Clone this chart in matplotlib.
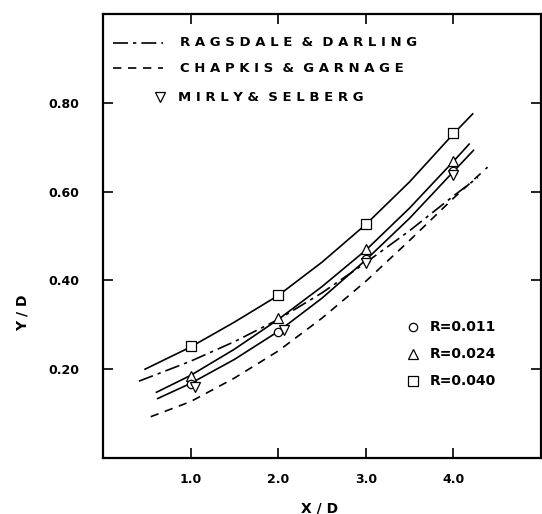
import numpy as np
import matplotlib
matplotlib.use('Agg')
import matplotlib.pyplot as plt

plt.rcParams['font.family'] = ['DejaVu Sans']
plt.rcParams['font.weight'] = 'bold'

# measured points (X/D)
x_pts = [1.0, 2.0, 3.0, 4.0]
r011_y = [0.166, 0.284, 0.448, 0.646]
r024_y = [0.184, 0.316, 0.470, 0.670]
r040_y = [0.252, 0.366, 0.527, 0.732]
mirly_x = [1.05, 2.07, 3.0, 4.0]
mirly_y = [0.159, 0.289, 0.440, 0.638]

# fitted curves
r040_cx = [0.48, 1.0, 1.5, 2.0, 2.5, 3.0, 3.5, 4.0, 4.22]
r040_cy = [0.200, 0.250, 0.306, 0.366, 0.441, 0.526, 0.622, 0.730, 0.775]
r024_cx = [0.61, 1.0, 1.5, 2.0, 2.5, 3.0, 3.5, 4.0, 4.18]
r024_cy = [0.148, 0.186, 0.245, 0.312, 0.386, 0.468, 0.563, 0.668, 0.707]
r011_cx = [0.625, 1.0, 1.5, 2.0, 2.5, 3.0, 3.5, 4.0, 4.23]
r011_cy = [0.134, 0.168, 0.222, 0.285, 0.360, 0.446, 0.540, 0.645, 0.693]
ragsdale_x = [0.41, 1.0, 1.5, 2.0, 2.5, 3.0, 3.5, 4.0, 4.28]
ragsdale_y = [0.173, 0.218, 0.262, 0.312, 0.372, 0.440, 0.512, 0.590, 0.632]
chapkis_x = [0.545, 1.0, 1.5, 2.0, 2.5, 3.0, 3.5, 4.0, 4.39]
chapkis_y = [0.093, 0.127, 0.180, 0.241, 0.315, 0.398, 0.490, 0.585, 0.655]

fig = plt.figure(figsize=(5.42, 5.14), dpi=100)
ax = fig.add_axes([103/542, 1-458/514, 438/542, 444/514])

lw = 1.2
ax.plot(r040_cx, r040_cy, color='black', lw=lw)
ax.plot(r024_cx, r024_cy, color='black', lw=lw)
ax.plot(r011_cx, r011_cy, color='black', lw=lw)
ax.plot(ragsdale_x, ragsdale_y, color='black', lw=lw, dashes=(9, 3, 2, 3))
ax.plot(chapkis_x, chapkis_y, color='black', lw=lw, dashes=(5, 4))

mk = dict(ls='none', mfc='white', mec='black', mew=0.9)
ax.plot(x_pts, r040_y, marker='s', ms=7, **mk)
ax.plot(x_pts, r024_y, marker='^', ms=7, **mk)
ax.plot(x_pts, r011_y, marker='o', ms=6, **mk)
ax.plot(mirly_x, mirly_y, marker='v', ms=7, **mk)

ax.set_xlim(0, 5)
ax.set_ylim(0, 1.0)
ax.set_xticks([1, 2, 3, 4])
ax.set_xticklabels(['1.0', '2.0', '3.0', '4.0'])
ax.set_yticks([0.2, 0.4, 0.6, 0.8])
ax.set_yticklabels(['0.20', '0.40', '0.60', '0.80'])
ax.tick_params(axis='both', direction='in', length=7, width=1.2,
               top=True, right=True, labelsize=9)
ax.tick_params(axis='y', pad=17)
ax.tick_params(axis='x', pad=11)
for s in ax.spines.values():
    s.set_linewidth(1.6)

ax.set_xlabel('X / D', fontsize=10, fontweight='bold')
ax.set_ylabel('Y / D', fontsize=10, fontweight='bold')
ax.xaxis.set_label_coords(0.495, -0.097)
ax.yaxis.set_label_coords(-0.167, 0.327)

# legend top-left
tr = ax.transAxes
ax.plot([0.023, 0.137], [0.935, 0.935], color='black', lw=lw, dashes=(9, 3, 2, 3), transform=tr)
ax.text(0.176, 0.935, 'R A G S D A L E  &  D A R L I N G', transform=tr,
        va='center', ha='left', fontsize=9.5, fontweight='bold')
ax.plot([0.023, 0.137], [0.878, 0.878], color='black', lw=lw, dashes=(5, 4), transform=tr)
ax.text(0.176, 0.878, 'C H A P K I S  &  G A R N A G E', transform=tr,
        va='center', ha='left', fontsize=9.5, fontweight='bold')
ax.plot([0.130], [0.813], marker='v', ms=7, transform=tr, **mk)
ax.text(0.171, 0.813, 'M I R L Y &  S E L B E R G', transform=tr,
        va='center', ha='left', fontsize=9.5, fontweight='bold')

# legend bottom-right
ax.plot([0.708], [0.295], marker='o', ms=6, transform=tr, **mk)
ax.text(0.747, 0.295, 'R=0.011', transform=tr, va='center', ha='left', fontsize=10, fontweight='bold')
ax.plot([0.708], [0.234], marker='^', ms=7, transform=tr, **mk)
ax.text(0.747, 0.234, 'R=0.024', transform=tr, va='center', ha='left', fontsize=10, fontweight='bold')
ax.plot([0.708], [0.173], marker='s', ms=7, transform=tr, **mk)
ax.text(0.747, 0.173, 'R=0.040', transform=tr, va='center', ha='left', fontsize=10, fontweight='bold')

fig.savefig('out.png', dpi=100)
